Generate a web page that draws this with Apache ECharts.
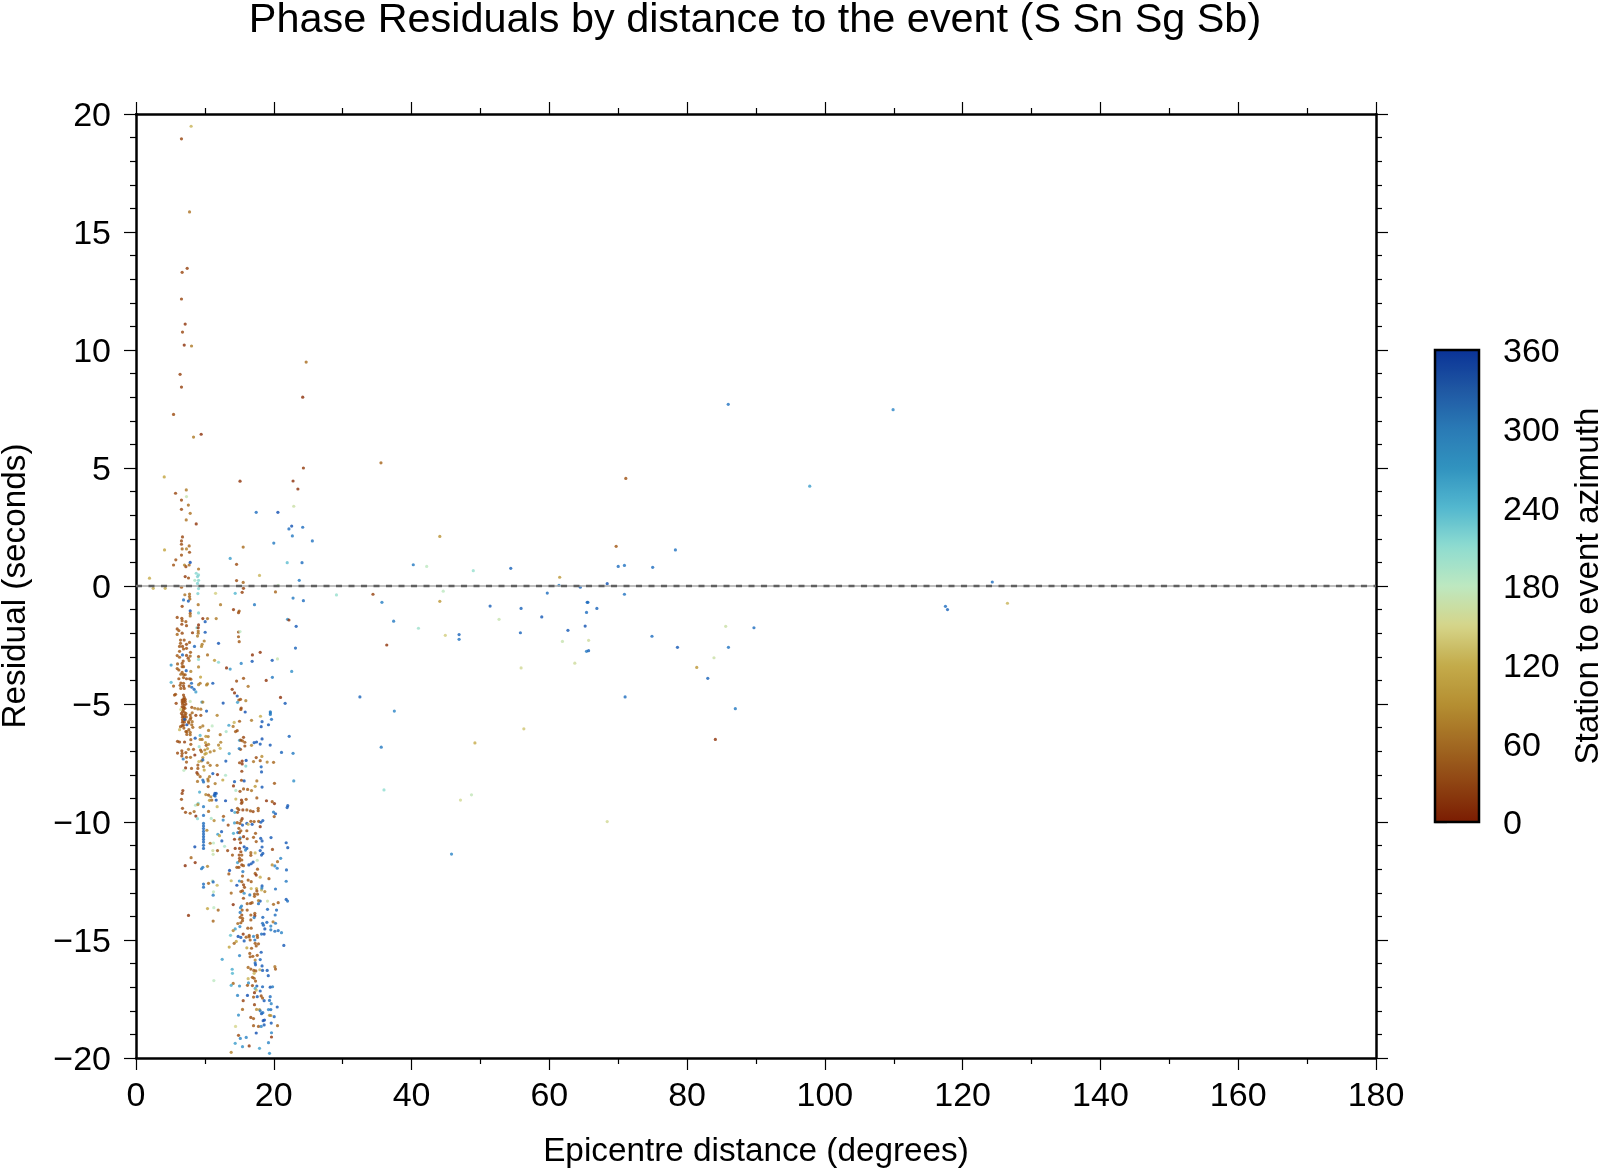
<!DOCTYPE html>
<html><head><meta charset="utf-8">
<style>html,body{margin:0;padding:0;background:#fff}#c{width:1600px;height:1169px}</style>
<script src="https://cdn.jsdelivr.net/npm/echarts@6/dist/echarts.min.js"></script>
</head><body><div id="c"></div>
<script>
// each pick: [epicentre distance deg, residual s, station-to-event azimuth deg]
const picksTeleseismic=[[85.97,7.7,295],[109.9,7.47,280],[97.8,4.23,260],[35.56,5.22,70],[71.1,4.56,55],[44.1,2.1,105],[69.7,1.68,60],[78.3,1.53,295],[40.25,.9,290],[42.2,.83,180],[48.96,.65,205],[54.4,.75,310],[70,.83,300],[70.9,.87,295],[75,.79,300],[61.5,.37,110],[61.4,.03,290],[64.5,-.05,310],[68.4,.1,325],[124.3,.17,300],[29.1,-.38,205],[34.4,-.35,40],[44.6,-.22,180],[44.1,-.65,110],[35.7,-.69,285],[70.9,-.35,295],[59.7,-.3,300],[65.5,-.69,310],[65.6,-.69,300],[55.9,-.95,310],[51.4,-.85,315],[66.9,-.95,310],[65.4,-1.12,300],[58.9,-1.31,320],[52.7,-1.41,170],[37.4,-1.49,290],[65.2,-1.7,325],[62.7,-1.88,320],[41,-1.79,200],[85.6,-1.71,165],[89.7,-1.77,300],[44.9,-2.09,145],[46.9,-2.06,310],[46.9,-2.26,295],[55.8,-1.98,310],[61.9,-2.35,170],[65.7,-2.3,160],[36.4,-2.5,30],[74.9,-2.13,300],[78.6,-2.6,320],[86,-2.6,295],[65.4,-2.77,290],[65.7,-2.74,310],[83.9,-3.04,165],[81.4,-3.45,110],[63.7,-3.27,160],[55.9,-3.47,155],[83,-3.91,310],[126.5,-.73,130],[117.5,-.86,300],[117.8,-1,310],[71,-4.7,300],[87,-5.2,290],[32.5,-4.7,310],[37.5,-5.3,280],[35.6,-6.83,290],[56.3,-6.05,140],[49.2,-6.65,125],[84.1,-6.5,30],[36,-8.64,210],[48.7,-8.85,175],[47.1,-9.07,155],[68.4,-9.98,155],[45.8,-11.36,280]];
const picksPositive=[[8,19.48,130],[6.6,18.95,45],[7.77,15.85,80],[6.7,13.29,45],[7.43,13.46,40],[6.6,12.16,45],[7.14,11.1,30],[6.75,10.76,45],[7,10.21,25],[8.06,10.17,85],[24.7,9.49,75],[6.4,8.97,40],[6.6,8.43,40],[24.2,8,25],[5.45,7.27,50],[8.35,6.31,85],[9.46,6.43,25],[24.3,5,35],[4.1,4.62,120],[15.1,4.44,30],[22.8,4.45,25],[23.5,4.11,25],[7.3,4.07,85],[5.74,3.93,45],[6.6,3.64,50],[7.33,3.79,170],[7.6,3.43,75],[22.9,3.38,165],[6.6,3.25,50],[7.87,3.08,80],[17.45,3.12,300],[20.6,3.12,330],[7.29,2.8,80],[8.74,2.63,30],[22.6,2.54,325],[22.2,2.42,300],[24.2,2.49,300],[22.7,2.12,290],[6.75,2.08,45],[6.6,1.91,50],[6.6,1.77,50],[7.72,1.7,70],[6.7,1.57,70],[7.33,1.57,90],[15.56,1.65,75],[4.14,1.53,120],[6.6,1.31,55],[7.77,1.43,50],[20,1.82,290],[25.6,1.91,295],[5.78,1.11,55],[13.67,1.17,260],[14.6,.92,50],[5.45,.89,55],[7.04,.89,90],[7.24,.82,50],[7.72,.89,70],[7.87,1,330],[9.08,.72,80],[21.95,.99,235],[24.1,.99,300],[8.74,.54,215],[9.08,.47,215],[7.14,.4,35],[8.93,.4,220],[7.62,.34,50],[1.96,.33,125],[17.93,.45,130],[8.54,.24,190],[9.08,.24,215],[14.6,.23,50],[15.56,.15,70],[23.7,.24,290],[8.93,.11,220],[20.64,.03,175],[6.6,-.05,60],[2.5,-.1,125],[4.24,-.1,125],[9.08,-.11,215],[15.6,-.1,40]];
const picksBandA=[[15.41,-.27,40],[20.25,-.25,70],[11.55,-.31,145],[14.4,-.31,240],[8.98,-.32,220],[7.77,-.34,75],[7.09,-.37,80],[7.77,-.45,70],[7.82,-.55,70],[6.9,-.59,300],[7.6,-.64,320],[22.8,-.51,290],[24.3,-.62,300],[6.7,-.86,45],[9.03,-.79,80],[12.27,-.79,85],[17.2,-.79,290],[14.15,-1,35],[14.98,-1.06,60],[14.88,-1.13,50],[7.87,-1.05,330],[7.87,-1.16,60],[7.87,-1.27,80],[9.08,-1.14,220],[5.98,-1.33,50],[6.65,-1.37,50],[6.7,-1.47,60],[7.24,-1.51,60],[9.7,-1.38,30],[10.38,-1.38,75],[11.64,-1.38,85],[10.04,-1.51,320],[22,-1.41,270],[22.2,-1.44,30],[6.65,-1.62,45],[7.33,-1.68,50],[9.08,-1.65,30],[8.84,-1.77,220],[9.03,-1.77,30],[23.25,-1.71,320],[5.98,-1.82,50],[6.22,-1.89,60],[9.03,-1.91,80],[8.2,-1.98,40],[9.03,-2,80],[10.04,-1.96,320],[6.7,-2,50],[5.98,-2.05,70],[14.88,-1.95,50],[15.1,-1.93,180],[8.93,-2.12,85],[14.88,-2.15,60],[14.98,-2.36,60],[6.46,-2.29,60],[6.99,-2.29,55],[6.46,-2.43,60],[7.33,-2.47,50],[7.77,-2.39,60],[9.9,-2.33,85],[9.6,-2.47,85],[9.51,-2.56,95],[11.98,-2.43,325],[6.32,-2.56,60],[6.75,-2.56,50],[6.9,-2.67,60],[7.33,-2.64,55],[8.49,-2.56,310],[23.15,-2.63,310],[6.32,-2.77,60],[7.91,-2.81,60],[18.03,-2.81,30],[16.9,-2.92,30],[6.75,-2.92,310],[5.98,-2.95,60],[7.33,-2.94,50],[7.87,-2.97,70],[10.38,-2.92,75],[9.08,-2.99,60],[6.32,-3.02,60],[7.57,-3.06,50],[6.85,-3.18,55],[7.72,-3.16,75],[9.08,-3.11,210],[11.4,-3.15,110],[11.98,-3.23,215],[16.86,-3.19,320],[19.77,-3.15,320],[20.54,-3.09,170],[15.27,-3.28,280],[6.7,-3.28,55],[6.03,-3.3,60],[5.1,-3.35,265],[6.7,-3.42,60],[6.9,-3.42,60],[9.08,-3.43,90],[13.14,-3.47,25],[13.67,-3.52,265],[5.98,-3.5,60],[6.22,-3.56,60],[7.29,-3.59,320],[7.96,-3.62,90],[6.7,-3.66,60],[22.6,-3.62,270],[6.51,-3.74,70],[7.14,-3.76,60],[6.9,-3.75,60],[9.37,-3.86,120],[6.9,-3.88,60],[6.22,-3.93,55],[7.33,-3.93,45],[7.77,-3.93,60],[7.96,-3.95,60],[15.61,-3.91,55],[19.8,-3.87,290],[14.6,-4.03,50],[18.9,-4,30],[5.1,-4.08,240],[6.51,-4.11,55],[6.9,-4.12,60],[8.06,-4.12,310],[9.31,-4.12,80],[10.38,-4.15,90],[11.15,-4.12,320],[10.24,-4.19,90],[5.45,-4.24,60],[6.41,-4.21,60],[6.9,-4.24,45],[7.72,-4.24,60],[9.08,-4.18,90],[16.28,-4.25,80],[6.51,-4.34,60],[7,-4.34,55],[8.1,-4.29,310],[8.44,-4.38,310],[8.69,-4.49,260],[13.96,-4.38,35],[14.3,-4.53,30],[14.69,-4.66,325],[5.59,-4.62,55],[5.74,-4.59,55],[6.9,-4.62,50],[7,-4.72,50],[20.98,-4.72,25]];
const picksCluster=[[6.9,-4.8,50],[7.14,-4.8,55],[6.7,-4.83,50],[7.14,-4.89,50],[6.7,-4.92,50],[6.9,-4.92,55],[7.24,-5,50],[6.75,-5,55],[7,-5.06,50],[6.7,-5.12,50],[6.9,-5.15,55],[7.1,-5.18,50],[6.75,-5.3,50],[7,-5.35,55],[6.75,-5.47,50],[7.14,-5.47,50],[6.75,-5.56,50],[7,-5.56,45],[6.75,-5.67,50],[7.14,-5.67,55],[6.75,-5.77,50],[7,-5.77,50],[7.24,-5.4,60],[6.6,-5.4,50],[7.3,-5.55,60]];
const picksBandB=[[7.87,-4.89,170],[5.83,-4.97,45],[9.56,-4.92,260],[9.7,-4.92,90],[14.93,-4.83,60],[15.17,-4.8,55],[15.94,-4.86,90],[14.74,-4.93,260],[12.65,-4.96,325],[21.65,-4.97,320],[15.27,-5.17,45],[15.22,-5.23,50],[8.54,-5.18,80],[8.98,-5.21,80],[9.41,-5.22,80],[6.51,-5.23,150],[6.9,-5.23,60],[8.1,-5.14,60],[10.24,-5.3,320],[15.85,-5.34,330],[8.16,-5.37,70],[19.5,-5.33,290],[19.5,-5.38,290],[19.5,-5.44,290],[7.87,-5.47,60],[8.69,-5.48,40],[9.41,-5.48,55],[11.78,-5.48,90],[18.07,-5.52,125],[7.05,-5.65,320],[7.96,-5.58,60],[7.62,-5.75,70],[8.16,-5.75,75],[7.87,-5.65,60],[16.77,-5.69,85],[15.03,-5.73,60],[19.67,-5.65,300],[18.3,-5.75,320],[14.25,-5.78,130],[7.38,-5.88,330],[6.9,-5.9,50],[7.67,-5.8,60],[8.1,-5.88,70],[6.46,-5.96,60],[6.7,-5.92,50],[19.23,-5.88,320],[13.48,-5.9,255],[18.17,-5.96,325],[14.1,-5.95,80],[11.06,-5.93,180],[9.7,-5.93,85],[9.31,-5.99,85],[8.25,-5.99,70],[6.32,-6.09,130],[6.95,-6.02,60],[7.67,-6.09,60],[7.38,-6.17,60],[7.87,-6.2,70],[10.53,-6.12,85],[14.69,-6.13,50],[14.45,-6.17,60],[13.09,-6.17,195],[12.22,-6.3,80],[7.24,-6.17,60],[7.38,-6.29,60],[7.87,-6.3,70],[9.31,-6.33,240],[8.59,-6.45,320],[10.14,-6.37,110],[10.48,-6.38,90],[9.31,-6.5,90],[22.24,-6.37,310],[15.61,-6.41,45],[18.3,-6.48,325],[9.6,-6.5,80],[15.03,-6.54,260],[15.2,-6.53,50],[15.45,-6.56,60],[15.8,-6.62,60],[17.15,-6.64,320],[17.5,-6.61,325],[6.03,-6.58,50],[6.32,-6.61,50],[7.05,-6.61,40],[7.96,-6.51,60],[7.96,-6.71,60],[11.98,-6.74,90],[12.3,-6.62,90],[10.09,-6.64,110],[10.2,-6.75,55],[10.53,-6.71,90],[18.03,-6.7,320],[16.77,-6.75,90],[19.48,-6.74,320],[9.17,-6.81,205],[15.17,-6.92,50],[15.8,-6.78,50],[12.22,-6.88,130],[8.35,-6.92,60],[7.62,-6.92,80],[9.37,-6.95,60],[9.51,-7.02,70],[9.99,-6.95,90],[10.38,-6.89,110],[14.98,-6.89,290],[11.34,-6.98,90],[6.03,-7.08,50],[6.65,-6.98,50],[6.7,-7.09,55],[7.24,-7.06,55],[8.54,-7.16,25],[10,-7.12,110],[10.2,-7.09,120],[10.77,-7.03,90],[13.53,-7.1,255],[21.12,-7.05,310],[22.8,-7.09,290],[6.85,-7.33,290],[7.33,-7.26,60],[7.91,-7.26,70],[6.65,-7.2,50],[9.7,-7.27,95],[9.12,-7.44,130],[9.51,-7.41,85],[9.7,-7.37,310],[13.04,-7.42,320],[15.41,-7.42,30],[15.03,-7.49,50],[17.45,-7.27,50],[15.99,-7.39,330],[18.27,-7.22,100],[18.03,-7.4,60],[17.06,-7.44,80],[19.04,-7.46,90],[19.97,-7.47,70],[7.33,-7.46,60],[10.43,-7.49,80]];
const picksBandC=[[10.77,-7.6,80],[11.77,-7.6,80],[8.98,-7.59,60],[15.41,-7.54,30],[15.94,-7.63,220],[9.8,-7.65,90],[18.17,-7.66,310],[7.2,-7.71,30],[8.06,-7.73,60],[6.95,-7.81,180],[8.98,-7.73,60],[8.84,-7.91,30],[15.36,-7.85,40],[9.9,-7.8,120],[11.83,-7.99,30],[11.15,-7.95,320],[10.67,-8.08,85],[8.98,-7.98,60],[13,-8.02,190],[18.22,-7.88,320],[9.31,-8.08,70],[9.7,-8.22,300],[8.93,-8.28,80],[9.8,-8.3,300],[10.43,-8.18,80],[10.48,-8.26,80],[12.6,-8.22,120],[15.31,-8.23,50],[15.7,-8.26,325],[14.3,-8.29,320],[17.54,-8.26,80],[20.1,-8.36,60],[22.9,-8.26,270],[11.49,-8.37,85],[14.15,-8.47,30],[17.3,-8.49,110],[18.3,-8.52,320],[10.48,-8.5,55],[15.61,-8.6,60],[14.49,-8.66,190],[16.2,-8.62,60],[16.77,-8.67,80],[15.1,-8.7,50],[6.8,-8.67,35],[6.7,-8.79,40],[9.23,-8.73,250],[11.45,-8.79,325],[11.64,-8.79,320],[11.36,-8.87,325],[10.14,-8.84,90],[10.53,-8.86,60],[10.86,-8.93,90],[14.49,-9.03,130],[11.49,-8.9,300],[6.6,-9.04,50],[10.67,-9.08,110],[11,-9.07,70],[11.64,-9.07,330],[13,-9.1,330],[15.31,-9.07,30],[15.41,-9.15,60],[15.31,-9.21,45],[15.99,-9.04,60],[17.54,-8.98,60],[18.94,-9.1,30],[19.77,-9.14,60],[20.1,-9.22,30],[9.03,-9.21,220],[8.64,-9.29,190],[8.98,-9.26,100],[9.8,-9.35,290],[11.78,-9.35,130],[22.03,-9.31,320],[21.94,-9.39,320],[6.75,-9.42,50],[10.53,-9.55,70],[7.19,-9.59,50],[7.87,-9.63,60],[8.44,-9.56,70],[9.8,-9.72,300],[8.69,-9.75,25],[13.9,-9.51,325],[14.35,-9.59,250],[14.73,-9.42,60],[14.93,-9.48,50],[15.51,-9.49,40],[16.09,-9.49,60],[16.62,-9.53,60],[17,-9.56,45],[17.74,-9.42,60],[17.74,-9.52,60],[14.74,-9.59,50],[19.96,-9.58,290],[20.25,-9.65,320],[20.06,-9.77,60],[8.93,-9.86,215],[10.92,-9.85,190],[12.7,-9.76,60],[12.65,-9.92,280],[11.34,-9.94,95],[9.8,-10.06,300],[13.38,-10.13,50],[14.3,-10.04,260],[14.7,-10.03,60],[15.1,-10.06,60],[15.41,-9.86,35],[15.27,-9.94,60],[15.46,-10.13,320],[16.09,-10.06,320],[16.28,-10.1,130],[16.67,-9.97,60],[17.15,-9.98,60],[17.8,-9.97,60],[18.03,-10.2,30],[18.12,-10.01,320],[18.41,-9.94,320],[16.86,-10.1,325],[9.8,-10.17,310],[9.8,-10.28,310],[9.8,-10.4,310],[9.8,-10.51,310],[9.8,-10.62,310],[9.8,-10.74,310],[9.8,-10.85,310],[9.8,-10.99,310],[9.8,-11.12,310],[10.29,-10.35,90],[14.93,-10.27,60],[16.09,-10.37,60],[14.78,-10.45,300],[12.42,-10.41,320],[11.88,-10.52,260],[12.12,-10.58,120],[15.03,-10.45,50],[15.22,-10.37,60],[14.15,-10.48,250],[15.12,-10.67,280],[15.61,-10.62,35],[16.14,-10.71,55],[17.06,-10.65,60],[17.35,-10.48,60],[12.46,-10.8,320],[14.3,-10.73,30],[15.17,-10.88,40],[15.03,-10.73,60],[18.1,-10.69,320],[18.3,-10.8,320],[19.6,-10.66,320],[21.8,-10.88,320],[17.45,-10.83,60],[10.77,-10.9,85],[11.25,-10.89,180],[8.54,-11.05,330],[12.86,-11.03,190],[15.7,-11.05,330],[16.09,-11.12,320],[15.03,-11.12,35],[14.4,-11.12,30],[18.3,-11.06,320],[22.03,-11.09,320],[19.81,-11.16,45],[11.83,-11.21,60],[13.3,-11.21,45],[11.15,-11.21,160],[11.2,-11.37,170],[18.03,-11.21,320],[15.9,-11.19,280],[16.67,-11.3,70],[17.3,-11.31,130],[18.22,-11.4,320],[18.41,-11.33,320],[14,-11.4,60],[14.98,-11.4,50],[15.36,-11.4,60],[15.22,-11.26,45],[16.67,-11.41,60]];
const picksBandD=[[8,-11.51,70],[8.59,-11.72,30],[21,-11.54,280],[14.74,-11.72,260],[15.03,-11.65,60],[15.36,-11.61,60],[15.03,-11.54,50],[16.72,-11.77,320],[17,-11.7,320],[17.6,-11.62,175],[20.54,-11.68,70],[15.36,-11.82,40],[15.6,-11.85,60],[14.64,-11.92,60],[14.93,-11.92,50],[16.38,-11.82,325],[7.14,-11.85,25],[9.51,-11.98,290],[9.7,-11.92,290],[10.38,-11.88,90],[20.16,-11.86,280],[19.77,-11.82,100],[20.5,-11.96,290],[21.84,-12.03,310],[13.58,-12.05,330],[13.48,-12.2,60],[15.51,-12.1,290],[17.64,-12,60],[15.46,-12.29,60],[17.3,-12.18,60],[17.45,-12.25,30],[18.03,-12.34,125],[19.3,-12.4,60],[11.1,-12.49,175],[13.82,-12.49,130],[15,-12.5,270],[15.36,-12.53,60],[16.28,-12.46,60],[16.72,-12.53,60],[9.8,-12.63,300],[9.8,-12.76,300],[10.53,-12.6,70],[11.2,-12.54,310],[11.78,-12.68,130],[14.64,-12.68,330],[15.61,-12.66,45],[15.75,-12.77,50],[16.72,-12.82,130],[17.5,-12.82,120],[17.54,-12.92,50],[18.22,-12.88,130],[18.7,-12.95,90],[18.3,-12.71,320],[18.27,-12.8,280],[20.25,-12.84,300],[21.8,-12.51,290],[15.46,-12.92,50],[15.22,-12.95,60],[15.7,-13.02,270],[13.82,-13.01,70],[11.25,-12.96,175],[11.2,-13.1,290],[16.52,-13.09,290],[17.2,-13.05,60],[17.2,-13.15,60],[17.64,-13.06,60],[18.03,-13.35,320],[17.78,-13.33,85],[19.09,-13.35,165],[15.6,-13.23,50],[16.14,-13.46,60],[16.62,-13.45,50],[16.86,-13.42,60],[17.78,-13.46,300],[21.8,-13.28,320],[22,-13.35,300],[20.64,-13.42,60],[19.96,-13.49,70],[14.11,-13.5,25],[15.32,-13.56,280],[11.3,-13.63,180],[10.38,-13.67,120],[11.93,-13.73,70],[15.17,-13.63,280],[15.41,-13.73,60],[16.14,-13.73,60],[19.09,-13.7,310],[20.4,-13.73,310],[15.12,-13.83,290],[15.36,-13.94,50],[16.67,-13.94,60],[17.25,-13.87,60],[17.25,-13.97,30],[17.15,-14.05,290],[18.41,-14.04,310],[20.2,-13.94,300],[15.12,-14.04,60],[15.46,-14.08,60],[15.46,-14.18,60],[16.67,-14.15,60],[11.2,-14.2,70],[7.62,-13.96,30],[14.78,-14.3,70],[15.22,-14.27,60],[18.37,-14.29,300],[19,-14.25,310],[19.9,-14.23,80],[20.25,-14.29,290],[18.5,-14.37,310],[15.08,-14.43,280],[19.57,-14.41,280],[18.7,-14.53,320],[19.57,-14.57,290],[20.16,-14.63,300],[20.64,-14.6,300],[21.12,-14.69,280],[14.4,-14.53,260],[14.11,-14.6,90],[16.23,-14.5,60],[16.72,-14.5,60],[15.56,-14.75,30],[14.83,-14.85,330],[15.22,-14.89,320],[13.72,-14.8,230],[15.99,-14.88,60],[16.43,-14.8,60],[16.43,-14.87,60],[17.06,-14.85,280],[17.6,-14.8,60],[17.64,-14.89,60],[18.22,-14.75,300],[18.6,-14.75,330],[15.7,-15.04,320],[16.57,-15,60],[17.25,-15,300],[14.55,-15.06,120],[14.25,-15.14,70],[17.3,-15.14,60],[17.78,-15.16,60],[17.45,-15.25,60],[21.46,-15.23,320],[13.53,-15.3,120],[16.09,-15.33,120],[16.77,-15.35,60]];
const picksBandE=[[18.17,-15.52,320],[16.52,-15.57,60],[15.03,-15.66,280],[16.57,-15.71,60],[16.96,-15.69,60],[17.6,-15.65,60],[12.51,-15.82,260],[17.3,-15.85,90],[18.03,-15.83,310],[17.3,-15.97,310],[17.35,-16.05,320],[18.3,-16.1,320],[20.16,-16.13,80],[20.25,-16.23,60],[16.28,-16.16,70],[16.67,-16.23,60],[17.1,-16.29,60],[17.39,-16.31,60],[17.98,-16.26,130],[18.37,-16.29,320],[19.04,-16.29,320],[13.96,-16.24,250],[14,-16.41,240],[17.15,-16.41,130],[19.2,-16.51,320],[16.28,-16.64,130],[16.9,-16.58,60],[17.15,-16.62,60],[17.35,-16.74,60],[11.3,-16.72,180],[14.11,-16.84,70],[16.33,-16.82,270],[16.18,-16.92,60],[16.9,-16.93,50],[13.82,-16.92,250],[15.03,-16.95,270],[17.54,-16.95,320],[18.37,-16.98,310],[19.48,-17,325],[19.82,-16.98,290],[17.3,-17.05,250],[17.45,-17.12,130],[18.03,-17.16,320],[17.2,-17.23,30],[14.74,-17.35,280],[16.18,-17.35,330],[17.06,-17.42,60],[17.6,-17.4,320],[18.17,-17.37,50],[18.37,-17.46,60],[18.6,-17.57,320],[19.48,-17.4,300],[19.38,-17.56,300],[19.63,-17.7,280],[15.56,-17.57,40],[17.2,-17.74,40],[15.46,-17.94,70],[17.5,-17.94,100],[17.93,-17.95,100],[18.03,-18,290],[19.23,-17.95,280],[19.57,-17.95,300],[20.5,-17.84,320],[18.22,-18.12,320],[18.41,-18.08,300],[14.88,-18.18,270],[19.38,-18.19,110],[19.57,-18.2,100],[20.06,-18.25,310],[16.67,-18.28,50],[17.06,-18.33,60],[18.46,-18.42,330],[18.65,-18.39,330],[19.63,-18.52,320],[18.6,-18.6,320],[14.45,-18.66,150],[17.06,-18.63,60],[17.78,-18.66,60],[18.17,-18.66,280],[20.54,-18.63,70],[17.45,-18.94,330],[19.67,-18.93,280],[14.88,-19.04,50],[16,-19.13,280],[15.14,-19.17,280],[19.67,-19.11,30],[14.4,-19.38,260],[19.23,-19.35,280],[16.43,-19.49,35],[15.46,-19.52,270],[17.93,-19.59,260],[13.82,-19.76,90],[19.38,-19.8,270]];
const zeroLine=[[0,0],[180,0]];
const azimuthColors=['#7A1C02','#8F4513','#A26A22','#B58F32','#C4AC4B','#D5D58A','#BDE8C0','#8EDCD0','#52B7CF','#3193BF','#2A7AB5','#1F57A3','#0A3396'];
const pointColors=['#7A1C02','#8E3208','#A05510','#B07F28','#C2A23C','#D5D58A','#BDE8C0','#8EDCD0','#52B7CF','#2F8FC8','#1C6CBE','#0E4CB0','#0A3396'];
const titleText='Phase Residuals by distance to the event (S Sn Sg Sb)';
const xName='Epicentre distance (degrees)',yName='Residual (seconds)',cName='Station to event azimuth';

const font='"Liberation Sans",Arial,sans-serif';
const picks=[].concat(picksTeleseismic,picksPositive,picksBandA,picksCluster,picksBandB,picksBandC,picksBandD,picksBandE);
const fmt=v=>String(v).replace('-','\u2212');
const line={show:true,onZero:false,lineStyle:{color:'#000',width:2.5}};
const tick={show:true,inside:false,length:12,lineStyle:{color:'#000',width:1.2}};
const minor=n=>({show:true,splitNumber:n,length:6,lineStyle:{color:'#000',width:1.2}});
const xBase={type:'value',gridIndex:0,min:0,max:180,interval:20,axisLine:line,axisTick:tick,minorTick:minor(2),splitLine:{show:false}};
const yBase={type:'value',gridIndex:0,min:-20,max:20,interval:5,axisLine:line,axisTick:tick,minorTick:minor(5),splitLine:{show:false}};
const chart=echarts.init(document.getElementById('c'),null,{renderer:'canvas'});
chart.setOption({
 animation:false,backgroundColor:'#fff',
 textStyle:{fontFamily:font},
 title:{text:titleText,left:750,top:-5,textAlign:'center',textStyle:{fontFamily:font,fontSize:41.4,fontWeight:'normal',color:'#000'}},
 grid:[{left:136,top:114,width:1240,height:944,show:false,outerBoundsMode:'none'},
       {left:1435,top:350,width:44,height:472,show:true,z:10,borderColor:'#000',borderWidth:2.5,backgroundColor:'transparent',outerBoundsMode:'none'}],
 xAxis:[
  {...xBase,position:'bottom',name:xName,nameLocation:'middle',nameGap:77,nameTextStyle:{fontFamily:font,fontSize:33.3,color:'#000'},
   axisLabel:{fontFamily:font,fontSize:34,color:'#000',margin:22}},
  {...xBase,position:'top',axisLabel:{show:false}},
  {type:'value',gridIndex:1,min:0,max:1,show:false}
 ],
 yAxis:[
  {...yBase,position:'left',name:yName,nameLocation:'middle',nameGap:104,nameRotate:90,nameTextStyle:{fontFamily:font,fontSize:33.3,color:'#000'},
   axisLabel:{fontFamily:font,fontSize:34,color:'#000',margin:25,verticalAlign:'top',lineHeight:6,formatter:fmt}},
  {...yBase,position:'right',axisLabel:{show:false}},
  {type:'value',gridIndex:1,position:'right',min:0,max:360,interval:60,
   axisLine:{show:false},axisTick:{show:true,length:12,lineStyle:{color:'#000',width:1.2}},splitLine:{show:false},
   axisLabel:{fontFamily:font,fontSize:34,color:'#000',margin:24,verticalAlign:'top',lineHeight:6},
   name:cName,nameLocation:'middle',nameRotate:90,nameGap:93,nameTextStyle:{fontFamily:font,fontSize:33.3,color:'#000'}}
 ],
 visualMap:[
  {type:'continuous',show:false,seriesIndex:0,dimension:2,min:0,max:360,inRange:{color:pointColors}},
  {type:'continuous',seriesIndex:[],min:0,max:360,inRange:{color:azimuthColors},
   left:1435,top:350,itemWidth:44,itemHeight:472,padding:0,calculable:false,text:null,hoverLink:false,z:1,textStyle:{fontSize:1,color:'transparent'}}
 ],
 series:[
  {type:'scatter',xAxisIndex:0,yAxisIndex:0,data:picks,symbol:'circle',symbolSize:3.2,silent:true,z:3},
  {type:'line',xAxisIndex:0,yAxisIndex:0,data:zeroLine,symbol:'none',silent:true,z:4,lineStyle:{color:'#aaaaaa',width:1.5}},
  {type:'line',xAxisIndex:0,yAxisIndex:0,data:zeroLine,symbol:'none',silent:true,z:5,lineStyle:{color:'#606060',width:2.5,type:[6,6.5]}}
 ]
});
</script></body></html>
